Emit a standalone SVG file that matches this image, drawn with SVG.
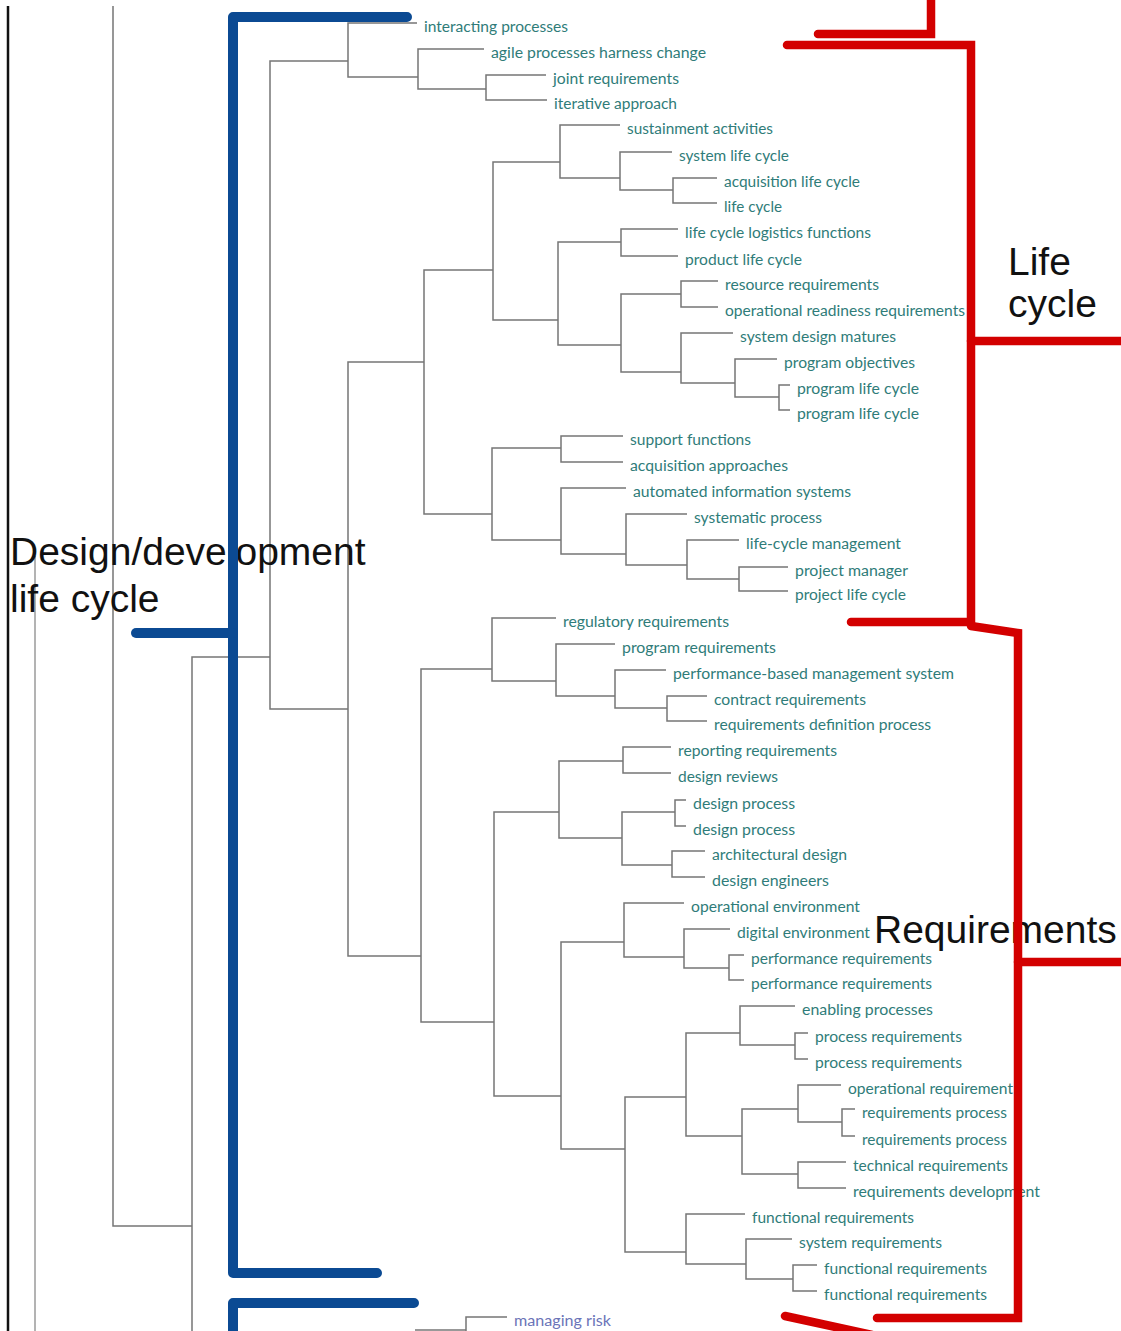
<svg xmlns="http://www.w3.org/2000/svg" width="1121" height="1331" viewBox="0 0 1121 1331">
  <style>
    .tree { fill: none; stroke: #767676; stroke-width: 1.5; }
    .axis { fill: none; stroke: #9a9a9a; stroke-width: 1.5; }
    .leaf { font-family: Lato, "Open Sans", sans-serif; font-size: 14.5px; fill: #2f7c79; }
    .risk { fill: #6b74b8; }
    .blue { fill: none; stroke: #0b4a93; stroke-width: 10; stroke-linecap: round; stroke-linejoin: round; }
    .red { fill: none; stroke: #d30000; stroke-width: 8.5; stroke-linecap: round; stroke-linejoin: miter; }
    .note { font-family: "Liberation Sans", Arial, sans-serif; font-size: 39px; fill: #111; }
  </style>
  <rect width="1121" height="1331" fill="#ffffff"/>

  <!-- dendrogram branches -->
  <g id="connectors">
    <path class="axis" d="M35 556 V1331"/>
    <path class="tree" d="M113 6 V1226 H192"/>
    <path class="tree" d="M270 657 H192 V1331"/>
    <path class="tree" d="M348 61 H270 V709 H348"/>
    <!-- upper cluster -->
    <path class="tree" d="M417 23 H348 V77 H418"/>
    <path class="tree" d="M484 49 H418 V89 H486"/>
    <path class="tree" d="M546 75 H486 V100 H547"/>
    <path class="tree" d="M424 362 H348 V956 H421"/>
    <!-- life cycle branch -->
    <path class="tree" d="M493 270 H424 V514 H492"/>
    <path class="tree" d="M560 162 H493 V320 H558"/>
    <path class="tree" d="M620 125 H560 V178 H620"/>
    <path class="tree" d="M672 152 H620 V190 H673"/>
    <path class="tree" d="M717 178 H673 V203 H717"/>
    <path class="tree" d="M621 242 H558 V345 H621"/>
    <path class="tree" d="M678 229 H621 V256 H678"/>
    <path class="tree" d="M681 294 H621 V372 H681"/>
    <path class="tree" d="M718 281 H681 V307 H718"/>
    <path class="tree" d="M733 333 H681 V383 H735"/>
    <path class="tree" d="M777 359 H735 V397 H779"/>
    <path class="tree" d="M790 385 H779 V410 H790"/>
    <path class="tree" d="M561 448 H492 V540 H561"/>
    <path class="tree" d="M623 436 H561 V462 H623"/>
    <path class="tree" d="M626 488 H561 V554 H626"/>
    <path class="tree" d="M687 514 H626 V565 H687"/>
    <path class="tree" d="M739 540 H687 V579 H739"/>
    <path class="tree" d="M788 567 H739 V591 H788"/>
    <!-- requirements branch -->
    <path class="tree" d="M492 669 H421 V1022 H494"/>
    <path class="tree" d="M556 618 H492 V681 H556"/>
    <path class="tree" d="M615 644 H556 V696 H615"/>
    <path class="tree" d="M666 670 H615 V708 H667"/>
    <path class="tree" d="M707 696 H667 V721 H707"/>
    <path class="tree" d="M559 812 H494 V1096 H561"/>
    <path class="tree" d="M623 761 H559 V838 H622"/>
    <path class="tree" d="M671 747 H623 V773 H671"/>
    <path class="tree" d="M675 812 H622 V865 H672"/>
    <path class="tree" d="M686 800 H675 V826 H686"/>
    <path class="tree" d="M705 851 H672 V877 H705"/>
    <path class="tree" d="M624 942 H561 V1149 H625"/>
    <path class="tree" d="M684 903 H624 V957 H684"/>
    <path class="tree" d="M730 929 H684 V968 H729"/>
    <path class="tree" d="M744 955 H729 V980 H744"/>
    <path class="tree" d="M686 1097 H625 V1252 H686"/>
    <path class="tree" d="M740 1033 H686 V1136 H742"/>
    <path class="tree" d="M795 1006 H740 V1045 H795"/>
    <path class="tree" d="M808 1033 H795 V1059 H808"/>
    <path class="tree" d="M798 1109 H742 V1174 H798"/>
    <path class="tree" d="M841 1085 H798 V1122 H842"/>
    <path class="tree" d="M855 1109 H842 V1136 H855"/>
    <path class="tree" d="M846 1162 H798 V1188 H846"/>
    <path class="tree" d="M745 1214 H686 V1264 H746"/>
    <path class="tree" d="M792 1239 H746 V1279 H793"/>
    <path class="tree" d="M817 1265 H793 V1291 H817"/>
    <!-- lower branch -->
    <path class="tree" d="M507 1317 H466 V1331"/>
    <path class="tree" d="M415 1330 H466"/>
  </g>

  <!-- leaf terms -->
  <g id="leaf-interacting-processes"><text class="leaf" x="424" y="32" textLength="144" lengthAdjust="spacingAndGlyphs">interacting processes</text></g>
  <g id="leaf-agile-processes"><text class="leaf" x="491" y="58" textLength="215" lengthAdjust="spacingAndGlyphs">agile processes harness change</text></g>
  <g id="leaf-joint-requirements"><text class="leaf" x="553" y="84" textLength="126" lengthAdjust="spacingAndGlyphs">joint requirements</text></g>
  <g id="leaf-iterative-approach"><text class="leaf" x="554" y="109" textLength="123" lengthAdjust="spacingAndGlyphs">iterative approach</text></g>
  <g id="leaf-sustainment-activities"><text class="leaf" x="627" y="134" textLength="146" lengthAdjust="spacingAndGlyphs">sustainment activities</text></g>
  <g id="leaf-system-life-cycle"><text class="leaf" x="679" y="161" textLength="110" lengthAdjust="spacingAndGlyphs">system life cycle</text></g>
  <g id="leaf-acquisition-life-cycle"><text class="leaf" x="724" y="187" textLength="136" lengthAdjust="spacingAndGlyphs">acquisition life cycle</text></g>
  <g id="leaf-life-cycle"><text class="leaf" x="724" y="212" textLength="58" lengthAdjust="spacingAndGlyphs">life cycle</text></g>
  <g id="leaf-logistics-functions"><text class="leaf" x="685" y="238" textLength="186" lengthAdjust="spacingAndGlyphs">life cycle logistics functions</text></g>
  <g id="leaf-product-life-cycle"><text class="leaf" x="685" y="265" textLength="117" lengthAdjust="spacingAndGlyphs">product life cycle</text></g>
  <g id="leaf-resource-requirements"><text class="leaf" x="725" y="290" textLength="154" lengthAdjust="spacingAndGlyphs">resource requirements</text></g>
  <g id="leaf-readiness-requirements"><text class="leaf" x="725" y="316" textLength="240" lengthAdjust="spacingAndGlyphs">operational readiness requirements</text></g>
  <g id="leaf-system-design-matures"><text class="leaf" x="740" y="342" textLength="156" lengthAdjust="spacingAndGlyphs">system design matures</text></g>
  <g id="leaf-program-objectives"><text class="leaf" x="784" y="368" textLength="131" lengthAdjust="spacingAndGlyphs">program objectives</text></g>
  <g id="leaf-program-life-cycle-1"><text class="leaf" x="797" y="394" textLength="122" lengthAdjust="spacingAndGlyphs">program life cycle</text></g>
  <g id="leaf-program-life-cycle-2"><text class="leaf" x="797" y="419" textLength="122" lengthAdjust="spacingAndGlyphs">program life cycle</text></g>
  <g id="leaf-support-functions"><text class="leaf" x="630" y="445" textLength="121" lengthAdjust="spacingAndGlyphs">support functions</text></g>
  <g id="leaf-acquisition-approaches"><text class="leaf" x="630" y="471" textLength="158" lengthAdjust="spacingAndGlyphs">acquisition approaches</text></g>
  <g id="leaf-automated-information-systems"><text class="leaf" x="633" y="497" textLength="218" lengthAdjust="spacingAndGlyphs">automated information systems</text></g>
  <g id="leaf-systematic-process"><text class="leaf" x="694" y="523" textLength="128" lengthAdjust="spacingAndGlyphs">systematic process</text></g>
  <g id="leaf-life-cycle-management"><text class="leaf" x="746" y="549" textLength="155" lengthAdjust="spacingAndGlyphs">life-cycle management</text></g>
  <g id="leaf-project-manager"><text class="leaf" x="795" y="576" textLength="113" lengthAdjust="spacingAndGlyphs">project manager</text></g>
  <g id="leaf-project-life-cycle"><text class="leaf" x="795" y="600" textLength="111" lengthAdjust="spacingAndGlyphs">project life cycle</text></g>
  <g id="leaf-regulatory-requirements"><text class="leaf" x="563" y="627" textLength="166" lengthAdjust="spacingAndGlyphs">regulatory requirements</text></g>
  <g id="leaf-program-requirements"><text class="leaf" x="622" y="653" textLength="154" lengthAdjust="spacingAndGlyphs">program requirements</text></g>
  <g id="leaf-performance-based"><text class="leaf" x="673" y="679" textLength="281" lengthAdjust="spacingAndGlyphs">performance-based management system</text></g>
  <g id="leaf-contract-requirements"><text class="leaf" x="714" y="705" textLength="152" lengthAdjust="spacingAndGlyphs">contract requirements</text></g>
  <g id="leaf-requirements-definition"><text class="leaf" x="714" y="730" textLength="217" lengthAdjust="spacingAndGlyphs">requirements definition process</text></g>
  <g id="leaf-reporting-requirements"><text class="leaf" x="678" y="756" textLength="159" lengthAdjust="spacingAndGlyphs">reporting requirements</text></g>
  <g id="leaf-design-reviews"><text class="leaf" x="678" y="782" textLength="100" lengthAdjust="spacingAndGlyphs">design reviews</text></g>
  <g id="leaf-design-process-1"><text class="leaf" x="693" y="809" textLength="102" lengthAdjust="spacingAndGlyphs">design process</text></g>
  <g id="leaf-design-process-2"><text class="leaf" x="693" y="835" textLength="102" lengthAdjust="spacingAndGlyphs">design process</text></g>
  <g id="leaf-architectural-design"><text class="leaf" x="712" y="860" textLength="135" lengthAdjust="spacingAndGlyphs">architectural design</text></g>
  <g id="leaf-design-engineers"><text class="leaf" x="712" y="886" textLength="117" lengthAdjust="spacingAndGlyphs">design engineers</text></g>
  <g id="leaf-operational-environment"><text class="leaf" x="691" y="912" textLength="169" lengthAdjust="spacingAndGlyphs">operational environment</text></g>
  <g id="leaf-digital-environment"><text class="leaf" x="737" y="938" textLength="133" lengthAdjust="spacingAndGlyphs">digital environment</text></g>
  <g id="leaf-performance-requirements-1"><text class="leaf" x="751" y="964" textLength="181" lengthAdjust="spacingAndGlyphs">performance requirements</text></g>
  <g id="leaf-performance-requirements-2"><text class="leaf" x="751" y="989" textLength="181" lengthAdjust="spacingAndGlyphs">performance requirements</text></g>
  <g id="leaf-enabling-processes"><text class="leaf" x="802" y="1015" textLength="131" lengthAdjust="spacingAndGlyphs">enabling processes</text></g>
  <g id="leaf-process-requirements-1"><text class="leaf" x="815" y="1042" textLength="147" lengthAdjust="spacingAndGlyphs">process requirements</text></g>
  <g id="leaf-process-requirements-2"><text class="leaf" x="815" y="1068" textLength="147" lengthAdjust="spacingAndGlyphs">process requirements</text></g>
  <g id="leaf-operational-requirement"><text class="leaf" x="848" y="1094" textLength="165" lengthAdjust="spacingAndGlyphs">operational requirement</text></g>
  <g id="leaf-requirements-process-1"><text class="leaf" x="862" y="1118" textLength="145" lengthAdjust="spacingAndGlyphs">requirements process</text></g>
  <g id="leaf-requirements-process-2"><text class="leaf" x="862" y="1145" textLength="145" lengthAdjust="spacingAndGlyphs">requirements process</text></g>
  <g id="leaf-technical-requirements"><text class="leaf" x="853" y="1171" textLength="155" lengthAdjust="spacingAndGlyphs">technical requirements</text></g>
  <g id="leaf-requirements-development"><text class="leaf" x="853" y="1197" textLength="187" lengthAdjust="spacingAndGlyphs">requirements development</text></g>
  <g id="leaf-functional-requirements-1"><text class="leaf" x="752" y="1223" textLength="162" lengthAdjust="spacingAndGlyphs">functional requirements</text></g>
  <g id="leaf-system-requirements"><text class="leaf" x="799" y="1248" textLength="143" lengthAdjust="spacingAndGlyphs">system requirements</text></g>
  <g id="leaf-functional-requirements-2"><text class="leaf" x="824" y="1274" textLength="163" lengthAdjust="spacingAndGlyphs">functional requirements</text></g>
  <g id="leaf-functional-requirements-3"><text class="leaf" x="824" y="1300" textLength="163" lengthAdjust="spacingAndGlyphs">functional requirements</text></g>
  <g id="leaf-managing-risk"><text class="leaf risk" x="514" y="1326" textLength="97" lengthAdjust="spacingAndGlyphs">managing risk</text></g>

  <!-- page edge -->
  <path d="M8 6 V1331" stroke="#111" stroke-width="2.5" fill="none"/>

  <!-- cluster captions -->
  <g id="label-design-development">
    <text class="note" x="10" y="565">Design/development</text>
    <text class="note" x="10" y="612">life cycle</text>
  </g>
  <g id="label-life-cycle">
    <text class="note" x="1008" y="275">Life</text>
    <text class="note" x="1008" y="317">cycle</text>
  </g>
  <g id="label-requirements">
    <text class="note" x="874" y="943">Requirements</text>
  </g>

  <!-- brackets marking the clusters -->
  <g id="bracket-design-development">
    <path class="blue" d="M407 17 H233 V1273 H377"/>
    <path class="blue" d="M136 633 H233"/>
    <path class="blue" d="M414 1303 H233 V1340"/>
  </g>
  <g id="bracket-life-cycle">
    <path class="red" d="M931 -5 V34 H818"/>
    <path class="red" d="M787 45 H971 V622 H851"/>
    <path class="red" d="M971 341 H1125"/>
  </g>
  <g id="bracket-requirements">
    <path class="red" d="M971 626 L1018 633 V1318 H877"/>
    <path class="red" d="M1018 962 H1125"/>
    <path class="red" d="M785 1316 L872 1335"/>
  </g>
</svg>
